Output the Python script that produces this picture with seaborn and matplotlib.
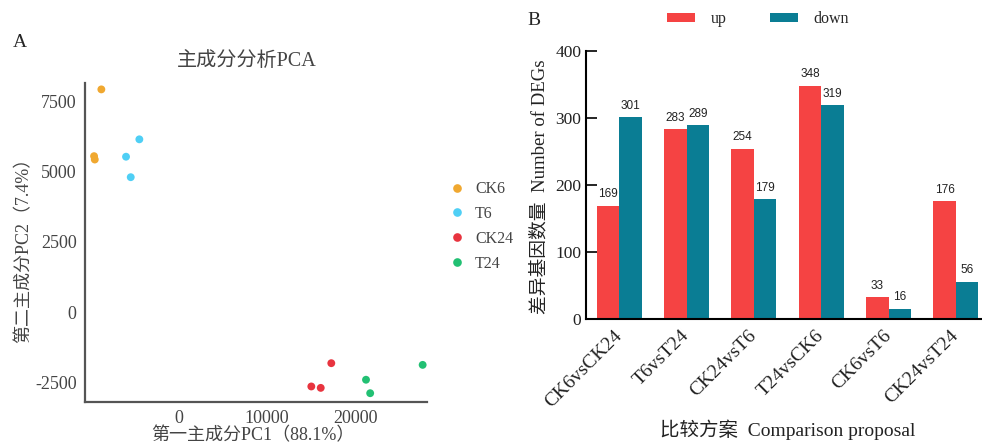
import pandas as pd
import matplotlib.pyplot as plt
import seaborn as sns

# PCA scores
samples = ['CK6', 'CK6', 'CK6', 'T6', 'T6', 'T6',
           'CK24', 'CK24', 'CK24', 'T24', 'T24', 'T24']
pc1 = [-8670, -9490, -9410, -4390, -5890, -5360,
       17230, 14980, 16040, 27520, 21140, 21610]
pc2 = [7940, 5560, 5440, 6160, 5540, 4810,
       -1820, -2650, -2700, -1880, -2410, -2890]
group_order = ['CK6', 'T6', 'CK24', 'T24']
group_colors = ['#F0A830', '#4FCFF5', '#E8343F', '#22C073']

# DEG counts (panel B)
comparisons = ['CK6vsCK24', 'T6vsT24', 'CK24vsT6', 'T24vsCK6', 'CK6vsT6', 'CK24vsT24']
up = [169, 283, 254, 348, 33, 176]
down = [301, 289, 179, 319, 16, 56]
bar_colors = ['#F54343', '#0A7D94']

sns.set_theme(style='white')
plt.rcParams['font.family'] = ['Liberation Serif', 'Noto Sans CJK SC', 'DejaVu Sans']
plt.rcParams['axes.unicode_minus'] = False

serif_cjk = ['Liberation Serif', 'Noto Sans CJK SC']
gray = '#444444'

fig = plt.figure(figsize=(9.82, 4.45), dpi=100)

# ---------------- Panel A: PCA ----------------
axA = fig.add_axes([0.0866, 0.0973, 0.3482, 0.7162])
pca_df = pd.DataFrame({'group': samples, 'PC1': pc1, 'PC2': pc2})
sns.scatterplot(data=pca_df, x='PC1', y='PC2', hue='group', hue_order=group_order,
                palette=group_colors, s=32, edgecolor='none', ax=axA)
axA.set_xlim(-10507, 28007)
axA.set_ylim(-3193, 8168)
axA.set_xticks([0, 10000, 20000])
axA.set_yticks([-2500, 0, 2500, 5000, 7500])
axA.tick_params(length=0, labelsize=13, colors=gray, pad=6)
for s in ['top', 'right']:
    axA.spines[s].set_visible(False)
for s in ['left', 'bottom']:
    axA.spines[s].set_color('#555555')
    axA.spines[s].set_linewidth(1.6)
axA.set_xlabel('第一主成分PC1（88.1%）', fontsize=13, color=gray, family=serif_cjk)
axA.set_ylabel('第二主成分PC2（7.4%）', fontsize=13, color=gray, family=serif_cjk)
axA.xaxis.set_label_coords(0.49, -0.078)
axA.yaxis.set_label_coords(-0.155, 0.489)
axA.text(0.473, 1.066, '主成分分析PCA', transform=axA.transAxes, ha='center', va='center',
         fontsize=14.5, color=gray, family=serif_cjk)
axA.legend(loc='center left', bbox_to_anchor=(1.0, 0.55), frameon=False, fontsize=11.5,
           handletextpad=0.1, labelspacing=0.55, markerscale=1.1, labelcolor=gray)
fig.text(0.013, 0.905, 'A', fontsize=14, va='center', ha='left')

# ---------------- Panel B: DEG counts ----------------
axB = fig.add_axes([0.5964, 0.2825, 0.4036, 0.6029])
deg_df = pd.DataFrame({
    'comparison': comparisons * 2,
    'count': up + down,
    'direction': ['up'] * len(up) + ['down'] * len(down),
})
sns.barplot(data=deg_df, x='comparison', y='count', hue='direction',
            hue_order=['up', 'down'], palette=bar_colors, saturation=1,
            width=0.67, gap=0, linewidth=0, ax=axB)
for cont in axB.containers:
    axB.bar_label(cont, padding=4, fontsize=8.5, family='Liberation Sans', color='#222222')
axB.set_xlim(-0.5, 5.389)
axB.set_ylim(0, 400)
axB.set_yticks([0, 100, 200, 300, 400])
for s in ['top', 'right']:
    axB.spines[s].set_visible(False)
for s in ['left', 'bottom']:
    axB.spines[s].set_color('black')
    axB.spines[s].set_linewidth(1.5)
axB.tick_params(axis='y', direction='in', length=8, width=1.2, labelsize=12.5,
                color='black', labelcolor='#222222', left=True, pad=3)
axB.tick_params(axis='x', direction='in', length=5, width=1.2, labelsize=14,
                color='black', labelcolor='#222222', bottom=True, pad=10)
plt.setp(axB.get_xticklabels(), rotation=45, ha='right', rotation_mode='anchor', va='center')
axB.set_xlabel('比较方案  Comparison proposal', fontsize=14, color='#222222', family=serif_cjk)
axB.set_ylabel('差异基因数量  Number of DEGs', fontsize=13.5, color='#222222', family=serif_cjk)
axB.xaxis.set_label_coords(0.51, -0.372)
axB.yaxis.set_label_coords(-0.095, 0.493)
axB.legend(loc='center', bbox_to_anchor=(0.772, 0.957), bbox_transform=fig.transFigure,
           ncol=2, frameon=False, fontsize=11.5, handlelength=1.75, handleheight=0.5,
           handletextpad=1.0, columnspacing=2.7)
fig.text(0.537, 0.955, 'B', fontsize=14, va='center', ha='left')

fig.savefig('out.png', dpi=100)
